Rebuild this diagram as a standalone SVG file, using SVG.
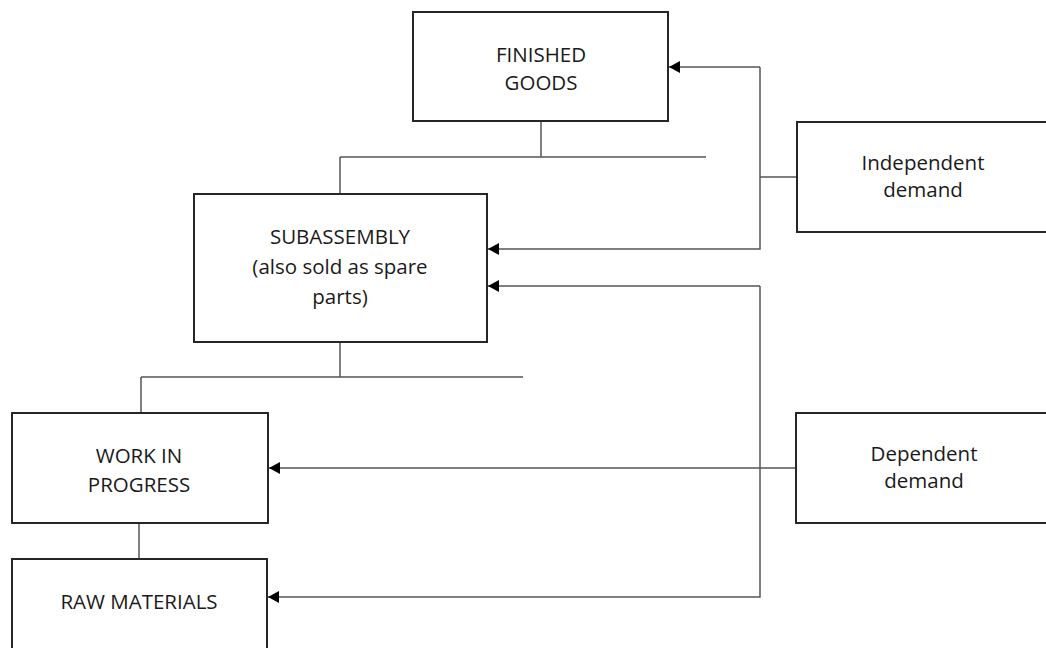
<svg xmlns="http://www.w3.org/2000/svg" width="1046" height="648" viewBox="0 0 1046 648">
<defs>
<style>
.box{fill:#fff;stroke:#262626;stroke-width:2}
.lbl{font-family:"Open Sans","Liberation Sans",sans-serif;font-size:20.5px;fill:#1a1a1a;text-anchor:middle}
.ln{fill:none;stroke:#555;stroke-width:1.5}
</style>
<marker id="ah" markerWidth="12" markerHeight="12" refX="11" refY="6" orient="auto" markerUnits="userSpaceOnUse">
<path d="M0,0 L11,6 L0,12 Z" fill="#000"/>
</marker>
</defs>
<rect width="1046" height="648" fill="#fff"/>
<g id="connectors">
<path class="ln" d="M541,122 V157 M340,157 H706 M340,157 V194"/>
<path class="ln" d="M340,342 V377 M141,377 H523 M141,377 V413"/>
<path class="ln" d="M139,523 V559"/>
<path class="ln" d="M797,177 H760"/>
<path class="ln" d="M760,67 V249 H488" marker-end="url(#ah)"/>
<path class="ln" d="M760,67 H669" marker-end="url(#ah)"/>
<path class="ln" d="M796,468 H269" marker-end="url(#ah)"/>
<path class="ln" d="M760,286 V597 H268" marker-end="url(#ah)"/>
<path class="ln" d="M760,286 H488" marker-end="url(#ah)"/>
</g>
<g id="finished-goods">
<rect class="box" x="413" y="12" width="255" height="109"/>
<text class="lbl" x="541" y="62">FINISHED</text>
<text class="lbl" x="541" y="90">GOODS</text>
</g>
<g id="subassembly">
<rect class="box" x="194" y="194" width="293" height="148"/>
<text class="lbl" x="340" y="244">SUBASSEMBLY</text>
<text class="lbl" x="340" y="274">(also sold as spare</text>
<text class="lbl" x="340" y="304">parts)</text>
</g>
<g id="work-in-progress">
<rect class="box" x="12" y="413" width="256" height="110"/>
<text class="lbl" x="139" y="463">WORK IN</text>
<text class="lbl" x="139" y="492">PROGRESS</text>
</g>
<g id="raw-materials">
<rect class="box" x="12" y="559" width="255" height="100"/>
<text class="lbl" x="139" y="609">RAW MATERIALS</text>
</g>
<g id="independent-demand">
<rect class="box" x="797" y="122" width="260" height="110"/>
<text class="lbl" x="923" y="170">Independent</text>
<text class="lbl" x="923" y="197">demand</text>
</g>
<g id="dependent-demand">
<rect class="box" x="796" y="413" width="260" height="110"/>
<text class="lbl" x="924" y="461">Dependent</text>
<text class="lbl" x="924" y="488">demand</text>
</g>
</svg>
